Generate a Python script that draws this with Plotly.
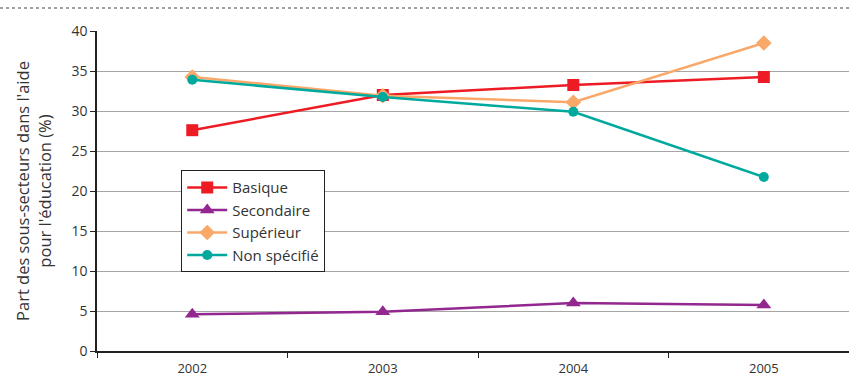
import plotly.graph_objects as go

years = ["2002", "2003", "2004", "2005"]
basique = [27.6, 32.0, 33.25, 34.25]
secondaire = [4.6, 4.9, 6.0, 5.75]
superieur = [34.25, 31.9, 31.1, 38.5]
non_specifie = [33.9, 31.75, 29.9, 21.75]

series = [
    ("Basique", basique, "#ED1C24", "square", 12),
    ("Secondaire", secondaire, "#92278F", "triangle-up", 13),
    ("Supérieur", superieur, "#F9A86A", "diamond", 12),
    ("Non spécifié", non_specifie, "#00A99D", "circle", 10),
]

fig = go.Figure()
for name, vals, color, symbol, size in series:
    fig.add_trace(go.Scatter(
        x=years, y=vals, name=name, mode="lines+markers",
        line=dict(color=color, width=2.5),
        marker=dict(symbol=symbol, size=size, color=color),
    ))

font = "Open Sans, Liberation Sans, sans-serif"
fig.update_layout(
    width=849, height=376,
    margin=dict(l=97, r=0, t=31, b=25),
    plot_bgcolor="white", paper_bgcolor="white",
    font=dict(family=font, size=12, color="#333333"),
    showlegend=True,
    legend=dict(
        x=0.112, y=0.565, xanchor="left", yanchor="top",
        bordercolor="#222222", borderwidth=1, bgcolor="white",
        font=dict(size=15, color="#333333"),
        tracegroupgap=0, itemwidth=40,
    ),
    xaxis=dict(
        type="category", range=[-0.5, 3.447],
        showline=True, linecolor="#222222", linewidth=1.5,
        ticks="outside", tickson="boundaries", ticklen=5, tickcolor="#222222",
        showgrid=False, tickfont=dict(size=13), ticklabelstandoff=5,
    ),
    yaxis=dict(
        range=[0, 40], dtick=5,
        showline=True, linecolor="#222222", linewidth=1.5,
        ticks="outside", ticklen=5, tickcolor="#222222",
        gridcolor="#A6A6A6", gridwidth=1, zeroline=False,
        tickfont=dict(size=14),
        title=dict(text="Part des sous-secteurs dans l'aide<br>pour l'éducation (%)",
                   font=dict(size=16.5), standoff=16),
    ),
)

# dotted rule across the top
fig.add_shape(type="line", xref="paper", yref="paper",
              x0=-0.129, x1=1.0, y0=1.072, y1=1.072,
              line=dict(color="#A0A0A0", width=2, dash="dot"))

fig.write_html("out.html")
